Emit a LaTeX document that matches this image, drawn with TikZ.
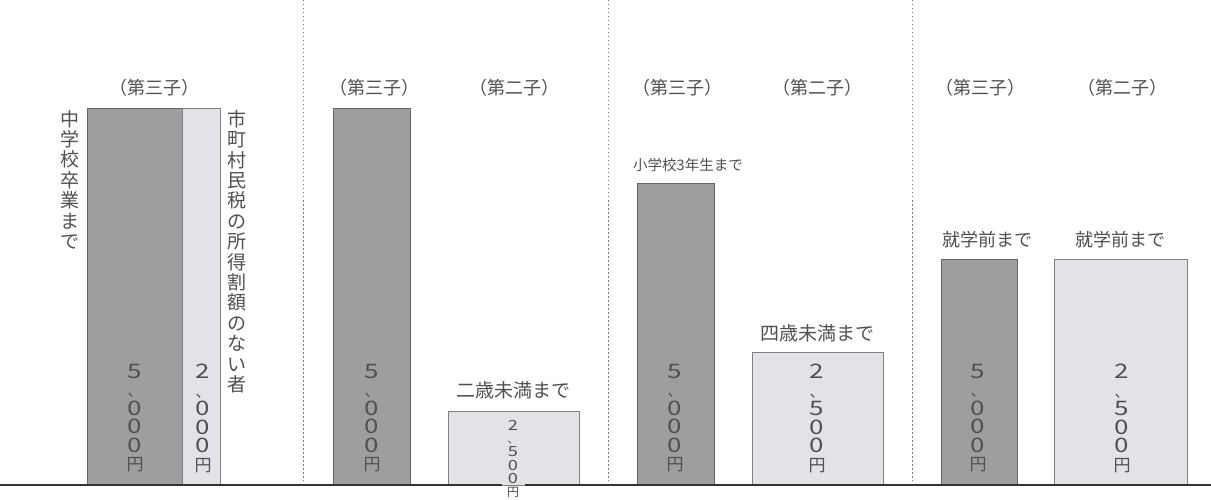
\documentclass[tikz,border=0pt]{standalone}
\usepackage{graphicx}
\usepackage{fontspec}
\newfontfamily\jp{Noto Sans CJK JP}
\definecolor{barDark}{RGB}{158,158,161}
\definecolor{barLight}{RGB}{226,227,231}
\definecolor{inkGray}{RGB}{80,80,80}
\newcommand{\wide}[1]{\scalebox{1.3}[1]{#1}}
\newcommand{\yenmark}{{\fontsize{17}{18.5}\selectfont 円}}
\newcommand{\tenmark}{{\fontsize{15}{18.5}\selectfont 、}}

\begin{document}
\begin{tikzpicture}[x=1pt,y=-1pt]
                        \tikzstyle{darkbar}=[fill=barDark,draw=gray!80!black,line width=0.6pt]
                        \tikzstyle{lightbar}=[fill=barLight,draw=gray,line width=0.6pt]
                        \tikzstyle{rank}=[font=\jp\fontsize{18}{20}\selectfont,text=inkGray,inner sep=0pt]
                        \tikzstyle{limitlabel}=[font=\jp\fontsize{19}{20}\selectfont,text=inkGray,inner sep=0pt]
                        \tikzstyle{tate}=[align=center,inner sep=0pt,anchor=north,text=inkGray]
                        \tikzstyle{tatelimit}=[tate,font=\jp\fontsize{19}{20.4}\selectfont]
                        \tikzstyle{yen}=[tate,font=\jp\fontsize{20}{18.5}\selectfont]
                        \tikzstyle{divider}=[gray,line width=0.7pt,dash pattern=on 1.5pt off 2.5pt]
                        \tikzstyle{groundline}=[black!80,line width=1.8pt]
                        \useasboundingbox (0,0) rectangle (1211,500);
                        \draw[divider] (303,0) -- (303,481);
                        \draw[divider] (608,0) -- (608,481);
                        \draw[divider] (912,0) -- (912,481);
                        \draw[darkbar] (87,108) rectangle (182,485);
                        \draw[lightbar] (182,108) rectangle (220,485);
                        \draw[darkbar] (333,108) rectangle (410,485);
                        \draw[lightbar] (448,411) rectangle (579,485);
                        \draw[darkbar] (637,183) rectangle (714,485);
                        \draw[lightbar] (752,352) rectangle (883,485);
                        \draw[darkbar] (941,259) rectangle (1017,485);
                        \draw[lightbar] (1054,259) rectangle (1187,485);
                        \coordinate (gl0) at (0,485);
                        \coordinate (gl1) at (502,485);
                        \coordinate (gl2) at (525,485);
                        \coordinate (gl3) at (1211,485);
                        \draw[groundline] (gl0) -- (gl1);
                        \draw[groundline] (gl2) -- (gl3);
                        \node[rank] (third1) at (154,88) {（第三子）};
                        \node[rank] (third2) at (374,88) {（第三子）};
                        \node[rank] (second2) at (514,88) {（第二子）};
                        \node[rank] (third3) at (677,88) {（第三子）};
                        \node[rank] (second3) at (817,88) {（第二子）};
                        \node[rank] (third4) at (980,88) {（第三子）};
                        \node[rank] (second4) at (1122,88) {（第二子）};
                        \node[tatelimit] (upto1) at (70,110) {中\\学\\校\\卒\\業\\ま\\で};
                        \node[tatelimit] (income1) at (237,110) {市\\町\\村\\民\\税\\の\\所\\得\\割\\額\\の\\な\\い\\者};
                        \node[limitlabel] (upto2) at (513,390) {二歳未満まで};
                        \node[limitlabel,font=\jp\fontsize{14.5}{16}\selectfont,anchor=west] (upto3a) at (633,165) {小学校3年生まで};
                        \node[limitlabel] (upto3b) at (817,333) {四歳未満まで};
                        \node[limitlabel,font=\jp\fontsize{18}{20}\selectfont] (upto4a) at (987,240) {就学前まで};
                        \node[limitlabel,font=\jp\fontsize{18}{20}\selectfont] (upto4b) at (1120,240) {就学前まで};
                        \node[yen] (yen1a) at (135,364) {\wide{5}\\\tenmark\\\wide{0}\\\wide{0}\\\wide{0}\\\yenmark};
                        \node[yen] (yen1b) at (203,364) {\wide{2}\\\tenmark\\\wide{0}\\\wide{0}\\\wide{0}\\\yenmark};
                        \node[yen] (yen2a) at (372,364) {\wide{5}\\\tenmark\\\wide{0}\\\wide{0}\\\wide{0}\\\yenmark};
                        \node[yen,font=\jp\fontsize{14}{13.3}\selectfont] (yen2b) at (513,420) {\wide{2}\\{\fontsize{11}{13.3}\selectfont 、}\\\wide{5}\\\wide{0}\\\wide{0}\\{\fontsize{12}{13.3}\selectfont 円}};
                        \node[yen] (yen3a) at (675,364) {\wide{5}\\\tenmark\\\wide{0}\\\wide{0}\\\wide{0}\\\yenmark};
                        \node[yen] (yen3b) at (817,364) {\wide{2}\\\tenmark\\\wide{5}\\\wide{0}\\\wide{0}\\\yenmark};
                        \node[yen] (yen4a) at (978,364) {\wide{5}\\\tenmark\\\wide{0}\\\wide{0}\\\wide{0}\\\yenmark};
                        \node[yen] (yen4b) at (1122,364) {\wide{2}\\\tenmark\\\wide{5}\\\wide{0}\\\wide{0}\\\yenmark};
                    \end{tikzpicture}
\end{document}
